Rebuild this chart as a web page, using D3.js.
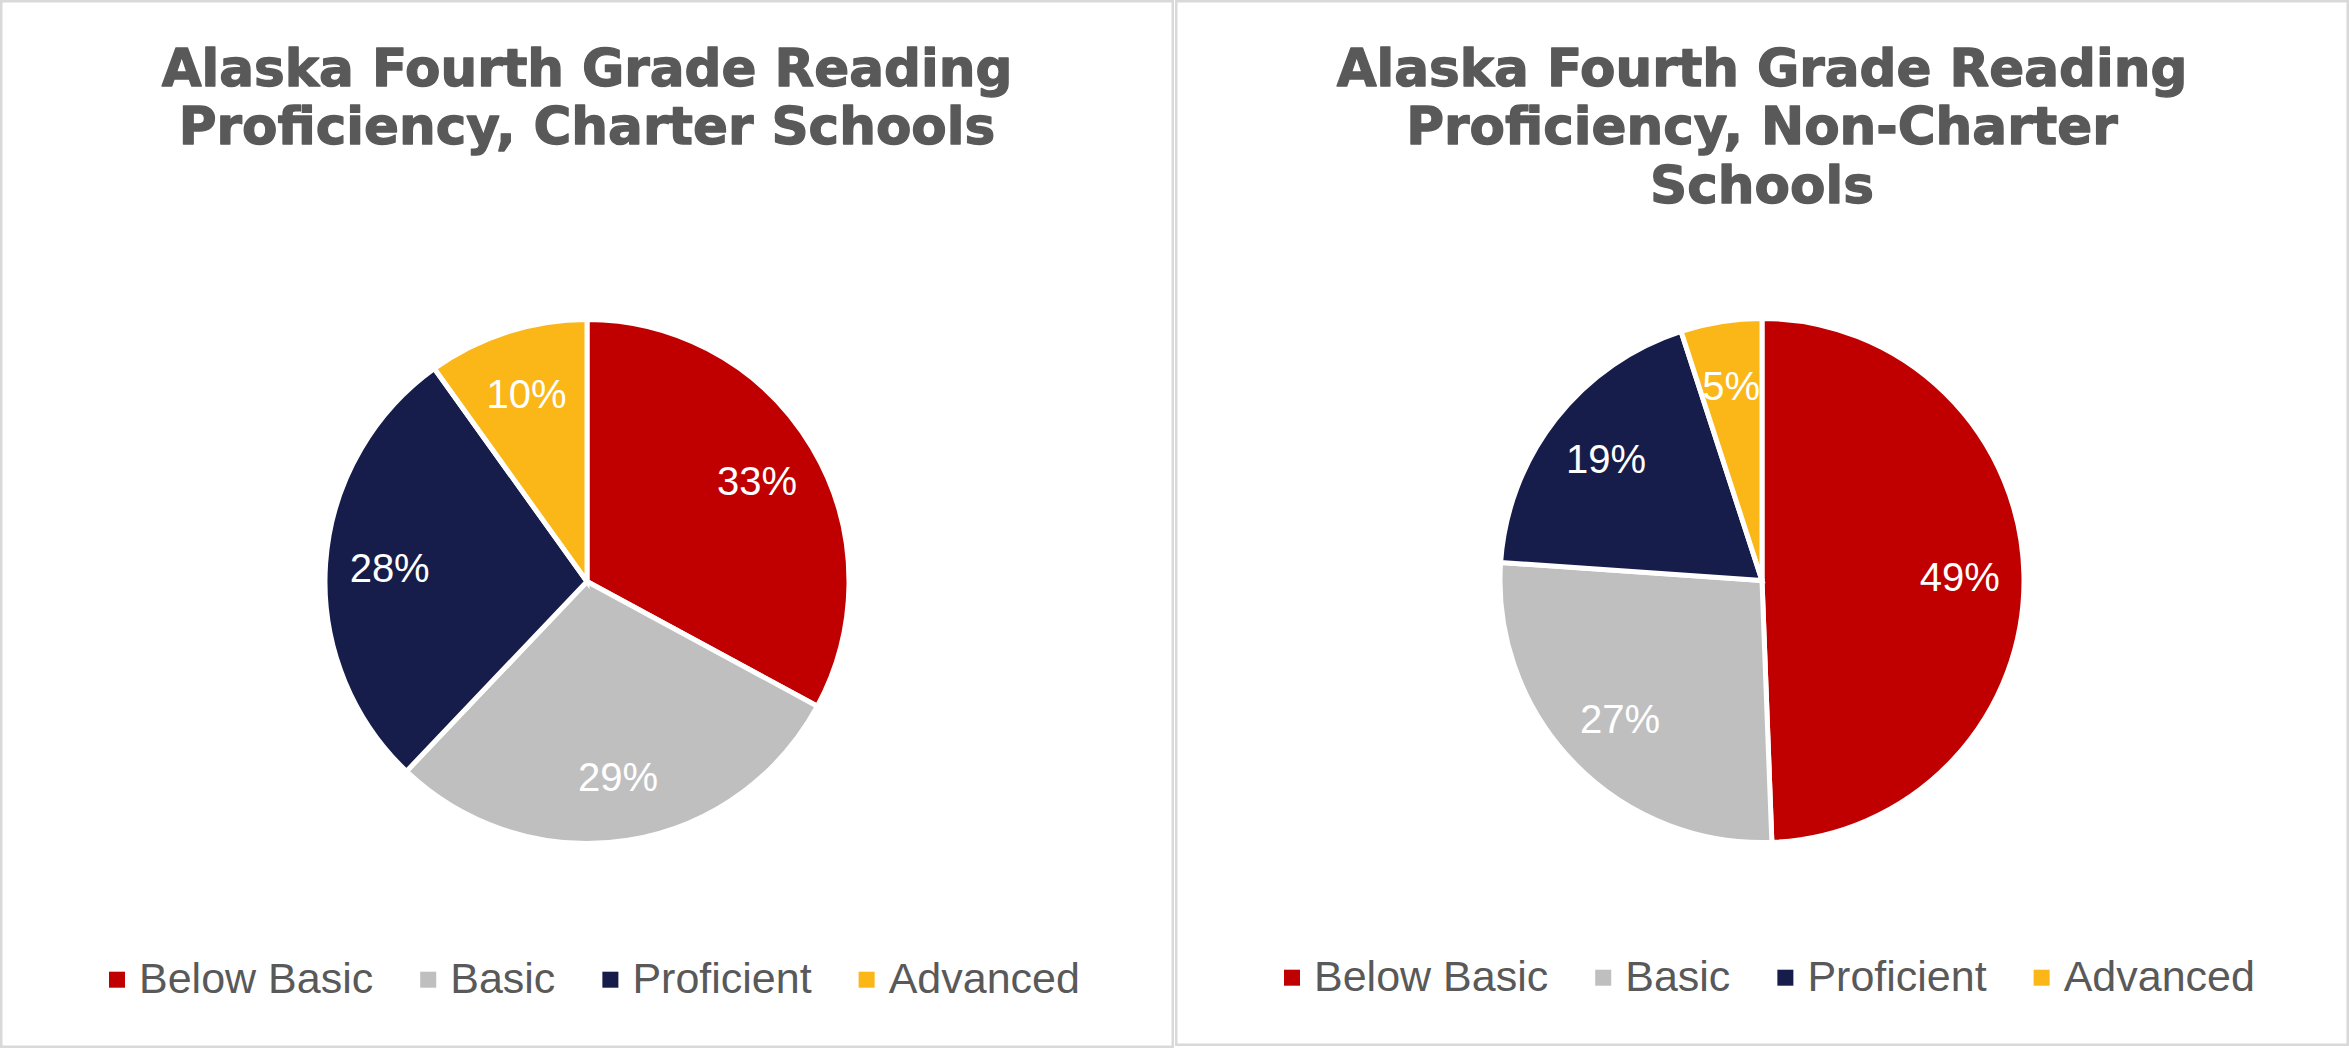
<!DOCTYPE html>
<html>
<head>
<meta charset="utf-8">
<script src="https://cdn.jsdelivr.net/npm/d3@7/dist/d3.min.js"></script>
<style>
  html, body { margin: 0; padding: 0; background: #fff; }
  svg { display: block; }
</style>
</head>
<body>
<div id="chart"></div>
<script>
// ---- Data ----
const categories = ["Below Basic", "Basic", "Proficient", "Advanced"];
const charterValues = [32.9, 29.2, 28.0, 9.9];
const nonCharterValues = [49.4, 26.7, 18.9, 5.0];
const charterLabels = ["33%", "29%", "28%", "10%"];
const nonCharterLabels = ["49%", "27%", "19%", "5%"];
const charterTitle = ["Alaska Fourth Grade Reading", "Proficiency, Charter Schools"];
const nonCharterTitle = ["Alaska Fourth Grade Reading", "Proficiency, Non-Charter", "Schools"];
const colors = ["#C00000", "#BFBFBF", "#171D4A", "#FBB617"];

// ---- Layout ----
const W = 2349, H = 1048;
const svg = d3.select("#chart").append("svg").attr("width", W).attr("height", H);

const panels = [
  { x: 0, w: 1174, h: 1048, values: charterValues, labels: charterLabels, title: charterTitle },
  { x: 1175, w: 1174, h: 1046, values: nonCharterValues, labels: nonCharterLabels, title: nonCharterTitle }
];

const color = d3.scaleOrdinal().domain(categories).range(colors);
const pie = d3.pie().sort(null).value(d => d.value);
const R = 262;
const arc = d3.arc().innerRadius(0).outerRadius(R);
const labelArc = d3.arc().innerRadius(R * 0.755).outerRadius(R * 0.755);

panels.forEach(p => {
  const g = svg.append("g").attr("transform", `translate(${p.x},0)`);
  // border
  g.append("rect")
    .attr("x", 1.25).attr("y", 1.25)
    .attr("width", p.w - 2.5).attr("height", p.h - 2.5)
    .attr("fill", "#fff").attr("stroke", "#D9D9D9").attr("stroke-width", 2.5);

  // title
  const cx = 587;
  g.append("text")
    .attr("text-anchor", "middle")
    .attr("fill", "#595959")
    .attr("stroke", "#595959")
    .attr("stroke-width", 1.3)
    .attr("stroke-linejoin", "round")
    .style("font-family", "'DejaVu Sans', sans-serif")
    .style("font-weight", "bold")
    .style("font-size", "51.6px")
    .selectAll("tspan").data(p.title).join("tspan")
      .attr("x", cx)
      .attr("y", (d, i) => 85.6 + i * 58.5)
      .text(d => d);

  // pie
  const data = categories.map((c, i) => ({ cat: c, value: p.values[i], label: p.labels[i] }));
  const arcs = pie(data);
  const pg = g.append("g").attr("transform", `translate(${cx},${p.h === 1048 ? 581.5 : 580.5})`);
  pg.selectAll("path").data(arcs).join("path")
    .attr("d", arc)
    .attr("fill", d => color(d.data.cat))
    .attr("stroke", "#fff")
    .attr("stroke-width", 5)
    .attr("stroke-linejoin", "miter");
  pg.selectAll("text").data(arcs).join("text")
    .attr("transform", d => `translate(${labelArc.centroid(d)})`)
    .attr("text-anchor", "middle")
    .attr("dy", "0.36em")
    .attr("fill", "#fff")
    .style("font-family", "'Liberation Sans', Arial, sans-serif")
    .style("font-size", "40px")
    .text(d => d.data.label);

  // legend
  const ly = p.h - 55.3;
  const lg = g.append("g");
  let x = 109;
  categories.forEach((c, i) => {
    lg.append("rect")
      .attr("x", x).attr("y", ly - 21)
      .attr("width", 16).attr("height", 16)
      .attr("fill", color(c));
    const t = lg.append("text")
      .attr("x", x + 30).attr("y", ly)
      .attr("fill", "#595959")
      .style("font-family", "'Liberation Sans', Arial, sans-serif")
      .style("font-size", "43px")
      .text(c);
    const tw = t.node().getComputedTextLength();
    x += 30 + tw + 47;
  });
});
</script>
</body>
</html>
